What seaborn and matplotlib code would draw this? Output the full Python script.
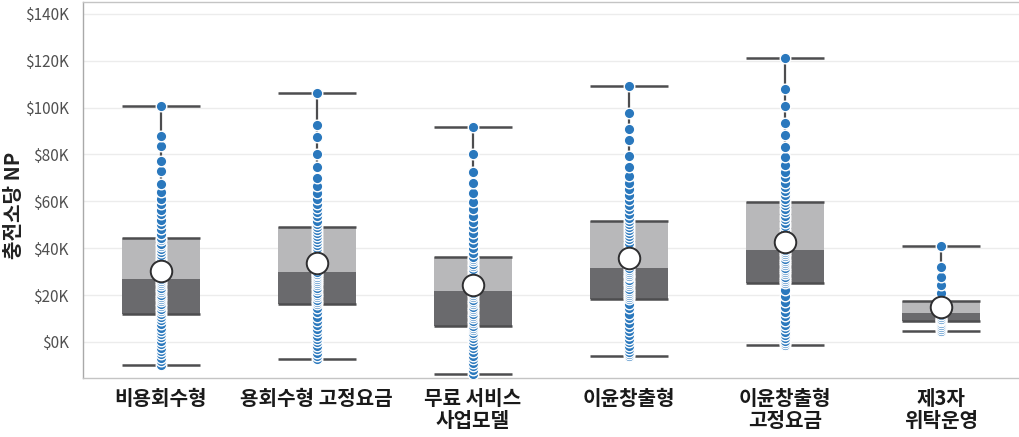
import numpy as np
import pandas as pd
import matplotlib
matplotlib.use("Agg")
import matplotlib.pyplot as plt
from matplotlib.ticker import FuncFormatter
import seaborn as sns

# Net profit per charging station (thousand USD), one list per business model
categories = ["비용회수형", "용회수형 고정요금", "무료 서비스\n사업모델",
              "이윤창출형", "이윤창출형\n고정요금", "제3자\n위탁운영"]

cost_recovery = [
    -9.8, -8.1, -6.9, -5.2, -3.8, -2.5, -1.0, 0.6, 2.1, 3.4, 4.6, 6.0, 7.8, 9.2, 10.6,
    11.9,
    13.0, 14.2, 15.5, 16.1, 17.4, 18.3, 19.0, 20.2, 21.1, 22.0, 23.2, 24.1, 25.0, 26.0,
    26.8,
    27.9, 29.0, 30.3, 31.5, 32.4, 33.6, 34.8, 36.0, 37.2, 38.3, 39.5, 40.8, 42.0, 43.3,
    44.3,
    46.0, 48.1, 50.3, 52.2, 54.5, 56.4, 58.7, 61.0, 63.8, 67.5, 72.9, 77.1, 83.6, 88.0, 100.9,
]
cost_recovery_fixed = [
    -7.2, -6.0, -4.6, -3.1, -1.6, -0.2, 1.2, 2.7, 4.1, 5.6, 7.2, 8.9, 10.7, 12.6, 14.6,
    16.2,
    17.1, 18.0, 19.2, 20.1, 21.0, 22.2, 23.0, 24.1, 25.0, 25.9, 26.8, 27.6, 28.4, 29.1,
    29.8,
    31.0, 32.3, 33.5, 34.9, 36.2, 37.6, 38.8, 40.1, 41.5, 42.8, 44.0, 45.3, 46.6, 47.8,
    48.9,
    50.2, 51.8, 53.6, 55.4, 57.1, 59.0, 61.2, 63.5, 66.4, 70.0, 74.6, 80.1, 87.5, 92.4, 106.4,
]
free_service = [
    -13.6, -12.0, -10.3, -8.9, -7.2, -5.8, -4.1, -2.7, -1.2, 0.3, 1.6, 2.9, 4.0, 5.0, 5.9,
    6.8,
    7.9, 9.0, 10.1, 11.2, 12.0, 13.1, 14.0, 15.1, 16.0, 17.0, 18.1, 19.0, 20.0, 20.9,
    21.7,
    22.6, 23.5, 24.4, 25.4, 26.3, 27.3, 28.2, 29.2, 30.3, 31.3, 32.4, 33.4, 34.4, 35.3,
    36.2,
    38.1, 40.0, 42.2, 44.5, 46.6, 48.9, 51.3, 53.8, 56.7, 59.9, 63.5, 67.8, 72.6, 80.4, 91.9,
]
profit = [
    -6.0, -5.2, -4.1, -2.9, -1.6, -0.2, 1.3, 2.9, 4.6, 6.3, 8.1, 10.0, 12.1, 14.3, 16.4,
    18.3,
    19.2, 20.1, 21.0, 21.9, 22.8, 23.8, 24.7, 25.6, 26.6, 27.5, 28.3, 29.2, 30.0, 30.8,
    31.5,
    32.8, 34.1, 35.5, 36.9, 38.3, 39.7, 41.1, 42.4, 43.8, 45.2, 46.6, 47.9, 49.2, 50.4,
    51.5,
    53.0, 54.8, 56.7, 58.6, 60.7, 62.8, 65.2, 67.9, 71.0, 74.6, 79.2, 86.0, 91.0, 97.8, 109.4,
]
profit_fixed = [
    -1.3, -0.6, 0.4, 1.6, 2.9, 4.3, 5.8, 7.4, 9.1, 10.9, 12.8, 14.8, 17.0, 19.4, 22.0,
    25.1,
    26.0, 27.0, 27.9, 28.9, 29.8, 30.8, 31.7, 32.7, 33.6, 34.6, 35.5, 36.5, 37.4, 38.3,
    39.1,
    40.1, 41.2, 42.4, 43.7, 45.0, 46.4, 47.8, 49.3, 50.8, 52.3, 53.8, 55.3, 56.8, 58.3,
    59.6,
    61.0, 62.6, 64.3, 66.1, 68.0, 70.2, 72.6, 75.4, 78.8, 83.0, 88.2, 93.5, 100.7, 108.1, 121.3,
]
third_party = [
    4.7, 5.6, 6.4, 7.3, 8.1,
    8.9,
    9.3, 9.8, 10.5, 11.4,
    12.3,
    12.8, 13.6, 14.5, 15.5,
    17.4,
    21.0, 24.5, 27.7, 31.9, 40.9,
]

groups = [cost_recovery, cost_recovery_fixed, free_service,
          profit, profit_fixed, third_party]
df = pd.DataFrame({
    "model": np.concatenate([[c] * len(v) for c, v in zip(categories, groups)]),
    "np": np.concatenate(groups),
})

LIGHT = "#b8b8ba"
DARK = "#6a6a6d"
LINE = "#4d4d4f"
BLUE = "#2a78bd"
BOX_W = 0.5

sns.set_theme(style="white")
plt.rcParams["font.family"] = ["Noto Sans CJK KR", "DejaVu Sans"]

fig = plt.figure(figsize=(10.19, 4.37), dpi=100)
ax = fig.add_axes([0.081, 0.135, 0.919, 0.8605])

# Box from Q3 down to Q1, whiskers to the full data range
sns.boxplot(data=df, x="model", y="np", order=categories, ax=ax,
            color=LIGHT, width=BOX_W, whis=(0, 100), showcaps=False,
            showfliers=False, saturation=1,
            boxprops={"linewidth": 0, "facecolor": LIGHT, "zorder": 2},
            medianprops={"linewidth": 0},
            whiskerprops={"linewidth": 1.6, "color": LINE, "zorder": 2})

# Lower half of each box (Q1 to median) in the darker shade, plus edges and caps
stats = df.groupby("model", sort=False)["np"].quantile([0, 0.25, 0.5, 0.75, 1]).unstack()
stats = stats.loc[categories]
xs = np.arange(len(categories))
ax.bar(xs, stats[0.5] - stats[0.25], bottom=stats[0.25], width=BOX_W,
       color=DARK, linewidth=0, zorder=2.1)
for col in [0.25, 0.75, 0.0, 1.0]:
    ax.hlines(stats[col], xs - BOX_W / 2, xs + BOX_W / 2, color=LINE,
              linewidth=1.8, zorder=2.2)

# Individual stations
sns.stripplot(data=df, x="model", y="np", order=categories, ax=ax,
              jitter=False, color=BLUE, size=7.6, edgecolor="white",
              linewidth=1.0, zorder=4)

# Average per model
sns.pointplot(data=df, x="model", y="np", order=categories, ax=ax,
              estimator="mean", errorbar=None, linestyle="none",
              marker="o", color=LINE, markersize=15.5,
              markerfacecolor="white", markeredgecolor="#2e2e30",
              markeredgewidth=1.4, zorder=6)

ax.set_ylim(-15.4, 145.1)
ax.set_xlim(-0.5, len(categories) - 0.5)
ax.set_yticks(np.arange(0, 141, 20))
ax.yaxis.set_major_formatter(FuncFormatter(lambda v, _: f"${v:.0f}K"))
ax.yaxis.grid(True, color="#ececec", linewidth=1.0)
ax.set_axisbelow(True)

ax.set_xlabel("")
ax.set_ylabel("충전소당 NP", fontsize=14.5, fontweight="bold", color="#222222")
ax.yaxis.set_label_coords(-0.062, 0.46)
ax.tick_params(axis="y", labelsize=11, labelcolor="#505050", length=0, pad=10)
ax.tick_params(axis="x", labelsize=14.5, length=0, pad=7)
for lbl in ax.get_xticklabels():
    lbl.set_fontweight("bold")
    lbl.set_color("#1a1a1a")
    lbl.set_linespacing(1.05)

for side in ["left", "bottom", "top"]:
    ax.spines[side].set_visible(True)
    ax.spines[side].set_color("#c4c4c4")
    ax.spines[side].set_linewidth(1.0)
ax.spines["left"].set_color("#a9a9a9")
ax.spines["right"].set_visible(False)

fig.savefig("out.png", dpi=100, facecolor="white")
